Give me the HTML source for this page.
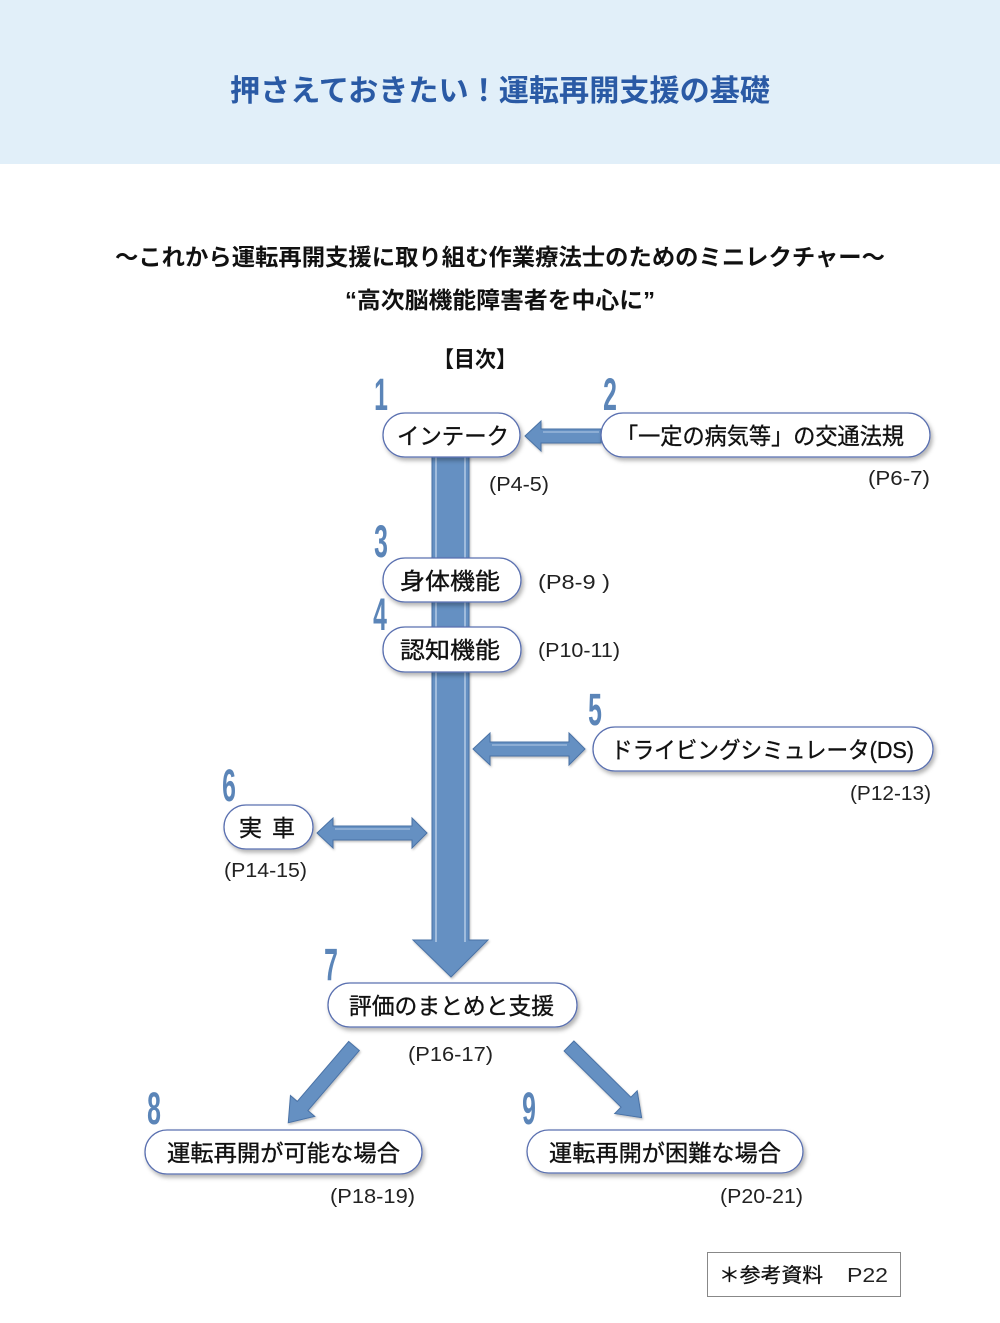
<!DOCTYPE html>
<html><head><meta charset="utf-8">
<style>
html,body{margin:0;padding:0;background:#fff;}
svg{display:block;}
.jp{font-family:"Liberation Sans","Noto Sans CJK JP",sans-serif;}
.pg{font-family:"Liberation Sans","Noto Sans CJK JP",sans-serif;font-size:20px;fill:#222;}
.nd{font-family:"Liberation Sans","Noto Sans CJK JP",sans-serif;font-size:23px;fill:#111;stroke:#111;stroke-width:0.35;}
.num{font-family:"Liberation Sans",sans-serif;font-size:45px;font-weight:bold;fill:#5b85b8;}
</style></head>
<body>
<svg width="1000" height="1323" viewBox="0 0 1000 1323" xmlns="http://www.w3.org/2000/svg">
<defs>
<filter id="sh" x="-10%" y="-30%" width="130%" height="180%">
<feDropShadow dx="2" dy="3" stdDeviation="2" flood-color="#000" flood-opacity="0.3"/>
</filter>
<filter id="ash" x="-20%" y="-20%" width="140%" height="140%">
<feDropShadow dx="1" dy="1.5" stdDeviation="1" flood-color="#000" flood-opacity="0.25"/>
</filter>
</defs>
<rect x="0" y="0" width="1000" height="164" fill="#e1eff9"/>
<text class="jp" x="230" y="101" font-size="30" font-weight="bold" fill="#2a5aa5" textLength="540" lengthAdjust="spacingAndGlyphs">押さえておきたい！運転再開支援の基礎</text>

<text class="jp" x="115" y="265" font-size="23" font-weight="bold" fill="#111" textLength="770" lengthAdjust="spacingAndGlyphs">～これから運転再開支援に取り組む作業療法士のためのミニレクチャー～</text>
<text class="jp" x="345" y="308" font-size="23" font-weight="bold" fill="#111" textLength="310" lengthAdjust="spacingAndGlyphs">“高次脳機能障害者を中心に”</text>
<text class="jp" x="433" y="367" font-size="22" font-weight="bold" fill="#111" textLength="84" lengthAdjust="spacingAndGlyphs">【目次】</text>

<!-- vertical bar arrow -->
<g filter="url(#ash)">
<polygon points="432,455 469,455 469,940 488,940 451,977 413,940 432,940" fill="#6590c2" stroke="#4a72a6" stroke-width="1"/>
<line x1="436" y1="455" x2="436" y2="942" stroke="#b3cae6" stroke-width="1.5"/>
<line x1="465" y1="455" x2="465" y2="942" stroke="#b3cae6" stroke-width="1.5"/>
</g>

<!-- arrows -->
<g fill="#6590c2" stroke="#4a72a6" stroke-width="1" filter="url(#ash)">
<polygon points="525,436 541,421 541,429 601,429 601,443 541,443 541,451"/>
<polygon points="473,749 490,733 490,742 569,742 569,733 585,749 569,765 569,756 490,756 490,765"/>
<polygon points="317,833 333,818 333,826 412,826 412,818 427,833 412,848 412,840 333,840 333,848"/>
<polygon transform="translate(354,1046) rotate(130.6)" points="0,-7 79,-7 79,-16 101,0 79,16 79,7 0,7"/>
<polygon transform="translate(569,1046) rotate(44.6)" points="0,-7 80,-7 80,-16 102,0 80,16 80,7 0,7"/>
</g>
<g fill="none" stroke="#b3cae6" stroke-width="1">
<line x1="543" y1="432" x2="599" y2="432"/>
<line x1="492" y1="745" x2="567" y2="745"/>
<line x1="335" y1="829" x2="410" y2="829"/>
</g>

<!-- nodes -->
<g fill="#fff" stroke="#5a70b0" stroke-width="1.3" filter="url(#sh)">
<rect x="383" y="413" width="137" height="44" rx="22"/>
<rect x="601" y="413" width="329" height="44" rx="22"/>
<rect x="383" y="558" width="138" height="44" rx="22"/>
<rect x="383" y="627" width="138" height="45" rx="22"/>
<rect x="593" y="727" width="340" height="44" rx="22"/>
<rect x="224" y="805" width="89" height="44" rx="22"/>
<rect x="328" y="983" width="249" height="44" rx="22"/>
<rect x="145" y="1130" width="277" height="44" rx="22"/>
<rect x="527" y="1130" width="276" height="43" rx="21.5"/>
</g>

<text class="nd" x="397" y="444" textLength="112" lengthAdjust="spacingAndGlyphs">インテーク</text>
<text class="nd" x="616" y="444" textLength="288" lengthAdjust="spacingAndGlyphs">「一定の病気等」の交通法規</text>
<text class="nd" x="400" y="589" textLength="100" lengthAdjust="spacingAndGlyphs">身体機能</text>
<text class="nd" x="400" y="658" textLength="100" lengthAdjust="spacingAndGlyphs">認知機能</text>
<text class="nd" x="611" y="758" textLength="303" lengthAdjust="spacingAndGlyphs">ドライビングシミュレータ(DS)</text>
<text class="nd" x="239" y="836">実</text>
<text class="nd" x="272" y="836">車</text>
<text class="nd" x="349" y="1014" textLength="205" lengthAdjust="spacingAndGlyphs">評価のまとめと支援</text>
<text class="nd" x="167" y="1161" textLength="233" lengthAdjust="spacingAndGlyphs">運転再開が可能な場合</text>
<text class="nd" x="549" y="1161" textLength="232" lengthAdjust="spacingAndGlyphs">運転再開が困難な場合</text>

<!-- page labels -->
<text class="pg" x="489" y="491" textLength="60" lengthAdjust="spacingAndGlyphs">(P4-5)</text>
<text class="pg" x="868" y="485" textLength="62" lengthAdjust="spacingAndGlyphs">(P6-7)</text>
<text class="pg" x="538" y="589" textLength="72" lengthAdjust="spacingAndGlyphs">(P8-9 )</text>
<text class="pg" x="538" y="657" textLength="82" lengthAdjust="spacingAndGlyphs">(P10-11)</text>
<text class="pg" x="850" y="800" textLength="81" lengthAdjust="spacingAndGlyphs">(P12-13)</text>
<text class="pg" x="224" y="877" textLength="83" lengthAdjust="spacingAndGlyphs">(P14-15)</text>
<text class="pg" x="408" y="1061" textLength="85" lengthAdjust="spacingAndGlyphs">(P16-17)</text>
<text class="pg" x="330" y="1203" textLength="85" lengthAdjust="spacingAndGlyphs">(P18-19)</text>
<text class="pg" x="720" y="1203" textLength="83" lengthAdjust="spacingAndGlyphs">(P20-21)</text>

<!-- numbers -->
<g class="num" text-anchor="middle">
<text transform="translate(381,410) scale(0.55,1)">1</text>
<text transform="translate(610,410) scale(0.55,1)">2</text>
<text transform="translate(381,557) scale(0.55,1)">3</text>
<text transform="translate(380,630) scale(0.55,1)">4</text>
<text transform="translate(595,725) scale(0.55,1)">5</text>
<text transform="translate(229,801) scale(0.55,1)">6</text>
<text transform="translate(331,980) scale(0.55,1)">7</text>
<text transform="translate(154,1124) scale(0.55,1)">8</text>
<text transform="translate(529,1124) scale(0.55,1)">9</text>
</g>

<!-- reference box -->
<rect x="707.5" y="1252.5" width="193" height="44" fill="#fff" stroke="#888" stroke-width="1"/>
<text class="jp" x="719" y="1282" font-size="20" fill="#111" stroke="#111" stroke-width="0.3" textLength="104" lengthAdjust="spacingAndGlyphs">＊参考資料</text>
<text class="pg" x="847" y="1282" fill="#111" textLength="41" lengthAdjust="spacingAndGlyphs">P22</text>
</svg>
</body></html>
